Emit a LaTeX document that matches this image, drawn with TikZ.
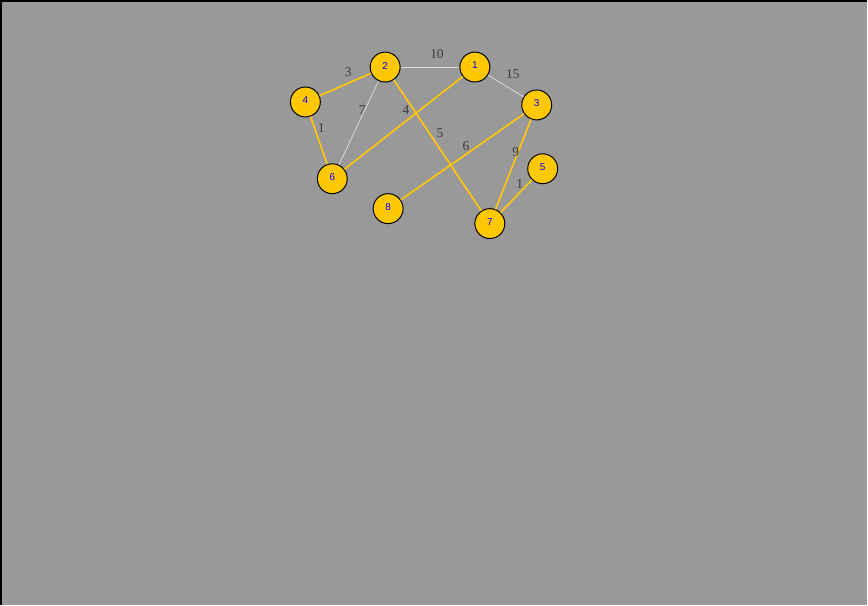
\documentclass[tikz,border=0pt]{standalone}
\usepackage{fontspec}
\setmainfont{Liberation Serif}
\newfontfamily\vtxfont{Liberation Sans}
\usetikzlibrary{positioning,calc}
\definecolor{bggray}{RGB}{153,153,153}
\definecolor{vtxyel}{RGB}{255,200,0}
\definecolor{wtgray}{RGB}{60,60,60}
\tikzset{
  vtx/.style={circle,draw=black,line width=1pt,fill=vtxyel,minimum size=30pt,inner sep=0pt,
              font=\vtxfont\fontsize{10}{10}\selectfont,text=blue},
  tree/.style={draw=vtxyel,line width=1.6pt},   % 选中的边
  rest/.style={draw=black!15,line width=0.8pt}, % 其余的边
  wt/.style={font=\fontsize{13.5}{13.5}\selectfont,text=wtgray,inner sep=1pt}
}

\begin{document}
\begin{tikzpicture}[x=1pt,y=-1pt]
  \fill[bggray] (0,0) rectangle (868,605);
  \draw[line width=2.5pt] (0,605) -- (0,0) -- (868,0);
  \useasboundingbox (0,0) rectangle (868,605);
  % 顶点
  \node[vtx] (v1) at (475,66) {\raisebox{3pt}{1}};
  \node[vtx] (v2) at (385,66) {\raisebox{3pt}{2}};
  \node[vtx] (v3) at (537,104) {\raisebox{3pt}{3}};
  \node[vtx] (v4) at (305,101) {\raisebox{3pt}{4}};
  \node[vtx] (v5) at (543,168) {\raisebox{3pt}{5}};
  \node[vtx] (v6) at (332,178) {\raisebox{3pt}{6}};
  \node[vtx] (v7) at (490,223) {\raisebox{3pt}{7}};
  \node[vtx] (v8) at (388,208) {\raisebox{3pt}{8}};
  % 边
  \draw[rest] (v2) -- (v1);
  \draw[rest] (v1) -- (v3);
  \draw[rest] (v2) -- (v6);
  \draw[tree] (v4) -- (v2);
  \draw[tree] (v4) -- (v6);
  \draw[tree] (v1) -- (v6);
  \draw[tree] (v2) -- (v7);
  \draw[tree] (v3) -- (v8);
  \draw[tree] (v3) -- (v7);
  \draw[tree] (v5) -- (v7);
  % 权值
  \node[wt] (w42) at (348,71) {3};
  \node[wt] (w21) at (437,53) {10};
  \node[wt] (w13) at (513,73) {15};
  \node[wt] (w26) at (362,109) {7};
  \node[wt] (w16) at (406,109) {4};
  \node[wt] (w46) at (321,127) {1};
  \node[wt] (w27) at (440,132) {5};
  \node[wt] (w38) at (466,145) {6};
  \node[wt] (w37) at (516,151) {9};
  \node[wt] (w57) at (520,183) {1};
\end{tikzpicture}
\end{document}
